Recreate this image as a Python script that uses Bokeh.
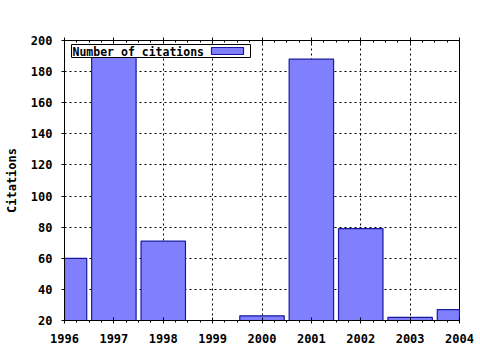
from bokeh.plotting import figure
from bokeh.models import Range1d, LinearAxis, FixedTicker, BoxAnnotation, Label
from bokeh.embed import file_html
from bokeh.resources import INLINE

years = [1996, 1997, 1998, 1999, 2000, 2001, 2002, 2003, 2004]
citations = [60, 190, 71, 0, 23, 188, 79, 22, 27]
year_ticks = [1996, 1997, 1998, 1999, 2000, 2001, 2002, 2003, 2004]
y_ticks = [20, 40, 60, 80, 100, 120, 140, 160, 180, 200]
series_name = "Number of citations"
y_title = "Citations"

FONT = "DejaVu Sans Mono"
FS = "12px"
BAR_FILL = "#8080FF"
BAR_LINE = "#1818A0"

p = figure(width=480, height=350, x_range=Range1d(1996, 2004), y_range=Range1d(20, 200),
           output_backend="svg", toolbar_location=None,
           min_border_left=64, min_border_right=21, min_border_top=40, min_border_bottom=30,
           x_axis_location=None, y_axis_location=None)
p.outline_line_color = "black"
p.outline_line_width = 1
p.background_fill_color = "white"
p.border_fill_color = "white"

p.vbar(x=years, top=citations, bottom=0, width=0.9, fill_color=BAR_FILL,
       line_color=BAR_LINE, line_width=1.2)

minor_years = [y + f for y in year_ticks[:-1] for f in (0.25, 0.5, 0.75)]

def style(ax, major_in=0, major_out=3, minor_in=0, minor_out=2):
    ax.axis_line_color = "black"
    ax.major_tick_line_color = "black"
    ax.minor_tick_line_color = "black"
    ax.major_tick_in = major_in
    ax.major_tick_out = major_out
    ax.minor_tick_in = minor_in
    ax.minor_tick_out = minor_out
    ax.major_label_text_font = FONT
    ax.major_label_text_font_style = "bold"
    ax.major_label_text_font_size = FS
    ax.major_label_text_color = "black"

bx = LinearAxis(ticker=FixedTicker(ticks=year_ticks, minor_ticks=minor_years))
style(bx, major_in=3, major_out=3, minor_in=0, minor_out=2)
bx.major_label_standoff = 10
p.add_layout(bx, "below")

tx = LinearAxis(ticker=FixedTicker(ticks=year_ticks, minor_ticks=minor_years),
                major_label_overrides={t: "" for t in year_ticks})
style(tx, major_in=3, major_out=3, minor_in=2, minor_out=0)
p.add_layout(tx, "above")

ly = LinearAxis(ticker=FixedTicker(ticks=y_ticks), axis_label=y_title)
style(ly, major_in=0, major_out=3, minor_in=0, minor_out=0)
ly.axis_label_text_font = FONT
ly.axis_label_text_font_style = "bold"
ly.axis_label_text_font_size = FS
ly.axis_label_text_color = "black"
ly.axis_label_standoff = 9
ly.major_label_standoff = 9
p.add_layout(ly, "left")

p.xgrid.ticker = FixedTicker(ticks=year_ticks)
p.ygrid.ticker = FixedTicker(ticks=y_ticks)
for g in (p.xgrid, p.ygrid):
    g.grid_line_color = "black"
    g.grid_line_dash = "2 3"
    g.grid_line_width = 1

# legend (screen units are relative to the plot frame, origin bottom-left)
p.add_layout(BoxAnnotation(left=7, right=186, top=276, bottom=263,
                           left_units="screen", right_units="screen",
                           top_units="screen", bottom_units="screen",
                           fill_color="white", fill_alpha=1,
                           line_color="black", line_alpha=1, line_width=1))
p.add_layout(BoxAnnotation(left=147, right=179, top=273, bottom=266,
                           left_units="screen", right_units="screen",
                           top_units="screen", bottom_units="screen",
                           fill_color=BAR_FILL, fill_alpha=1,
                           line_color=BAR_LINE, line_alpha=1, line_width=1.2))
p.add_layout(Label(x=8, y=269, x_units="screen", y_units="screen", text=series_name,
                   text_font=FONT, text_font_style="bold", text_font_size="11.5px",
                   text_baseline="middle", text_color="black"))

open("out.html", "w").write(file_html(p, INLINE))
